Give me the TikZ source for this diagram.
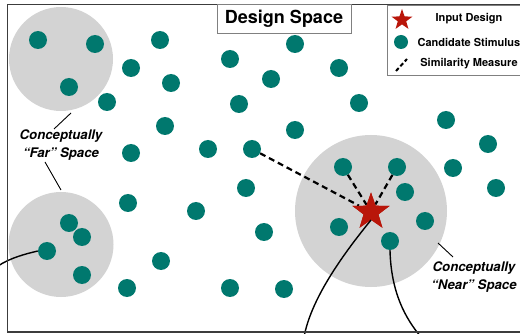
\documentclass[tikz,border=0pt]{standalone}
\usepackage{fontspec}
\setmainfont{TeX Gyre Heros}
\usetikzlibrary{shapes.geometric}
\definecolor{tealdot}{RGB}{0,120,110}
\definecolor{zonegray}{RGB}{211,211,211}
\definecolor{starred}{RGB}{185,22,10}
\definecolor{framegray}{RGB}{60,60,60}
\begin{document}
\begin{tikzpicture}[x=1pt,y=-1pt,
  dot/.style={circle,fill=tealdot,minimum size=18pt,inner sep=0pt},
  legdot/.style={circle,fill=tealdot,minimum size=14pt,inner sep=0pt},
  zone/.style={circle,fill=zonegray,inner sep=0pt},
  starnode/.style={star,star points=5,star point ratio=2.5,fill=starred,inner sep=0pt},
  simline/.style={line width=2.2pt,dash pattern=on 6pt off 4pt},
  conn/.style={line width=1.4pt},
  leader/.style={line width=0.9pt},
  zonelabel/.style={align=center,font=\bfseries\itshape\fontsize{13.2}{18}\selectfont},
  legtext/.style={font=\bfseries\fontsize{11}{13}\selectfont},
  boxline/.style={draw=gray,line width=0.9pt}]
\useasboundingbox (0,0) rectangle (520,334);
\clip (0,0) rectangle (520,334);
% zones
\node[zone,minimum size=104pt] (farA) at (61,59) {};
\node[zone,minimum size=105pt] (farB) at (61,244.5) {};
\node[zone,minimum size=152pt] (near) at (371,211) {};
% dots
\foreach \x/\y [count=\i] in {38/40,95/44,69/87,
  160/40,131/68,171/83,107/102,230/59,239/104,165/126,131/153,208/149,
  295/44,271/79,339/68,359/103,295/130,446/120,488/144,453/168,405/192,
  496/188,246/188,128/203,196/211,161/261,127/288,230/288,264/232,284/289,
  69/223,82/237,82/275,339/227,425/221}
  \node[dot] (p\i) at (\x,\y) {};
\node[dot] (dA) at (252,149) {};
\node[dot] (dB) at (343,167) {};
\node[dot] (dC) at (397,167) {};
\node[dot] (dL) at (47,251) {};
\node[dot] (dR) at (390,241) {};
% star
\node[starnode,minimum size=39pt] (inp) at (371,212) {};
% similarity lines
\draw[simline] (dA) -- (inp);
\draw[simline] (dB) -- (inp);
\draw[simline] (dC) -- (inp);
\node[starnode,minimum size=39pt] at (371,212) {};
% curves
\coordinate (exitL) at (-2,266);
\coordinate (exitS) at (304,337);
\coordinate (exitR) at (421,337);
\draw[conn] (dL.west) .. controls (25,254) and (10,258) .. (exitL);
\draw[conn] (inp.south) .. controls (340,258) and (311,300) .. (exitS);
\draw[conn] (dR.south) .. controls (391,292) and (405,318) .. (exitR);
% labels
\node[zonelabel] (farlab) at (61,145) {Conceptually\\“Far” Space};
\node[zonelabel] (nearlab) at (474,277) {Conceptually\\“Near” Space};
\coordinate (fa1) at (71,113); \coordinate (fa2) at (54,129);
\coordinate (fb1) at (45,162); \coordinate (fb2) at (61,190);
\coordinate (na1) at (438,243); \coordinate (na2) at (453,257);
\draw[leader] (fa1) -- (fa2);
\draw[leader] (fb1) -- (fb2);
\draw[leader] (na1) -- (na2);
% frame
\draw[draw=framegray,line width=1.5pt] (7.5,4.5) rectangle (560,332);
% title
\node[boxline,fill=white,minimum width=134pt,minimum height=29pt,inner sep=0pt,
  font=\bfseries\fontsize{18}{20}\selectfont] (title) at (284,19) {Design Space};
% legend
\node[boxline,fill=white,minimum width=160pt,minimum height=70pt,anchor=north west] (leg) at (386.5,5) {};
\node[starnode,minimum size=22pt] (legstar) at (402,20) {};
\node[legtext] (t1) at (469,19) {Input Design};
\node[legdot] (legd) at (401,42) {};
\node[legtext] (t2) at (469,42) {Candidate Stimulus};
\coordinate (ls1) at (396,71); \coordinate (ls2) at (407,59);
\draw[line width=2pt,dash pattern=on 4pt off 2.5pt] (ls1) -- (ls2);
\node[legtext] (t3) at (469,64) {Similarity Measure};
\end{tikzpicture}
\end{document}
